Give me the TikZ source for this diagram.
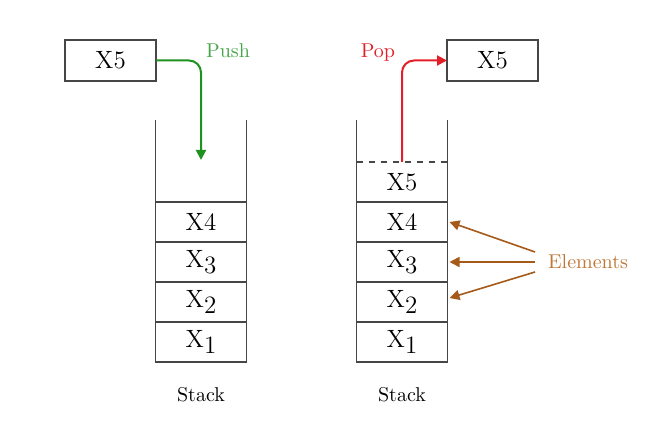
\documentclass[tikz,border=0pt]{standalone}
\usepackage{tikz}
\usetikzlibrary{arrows.meta,positioning}
\definecolor{wallgray}{RGB}{70,70,70}
\definecolor{pushgreen}{RGB}{30,145,30}
\definecolor{pushtext}{RGB}{70,165,70}
\definecolor{popred}{RGB}{228,30,40}
\definecolor{elembrown}{RGB}{165,90,25}
\definecolor{elemtext}{RGB}{190,120,55}
\def\lowdig#1{\raisebox{-.55ex}{#1}}
\tikzset{
	cell/.style={draw=wallgray, line width=0.7pt, minimum width=45.5pt, minimum height=20pt, inner sep=0pt, outer sep=0pt, font=\fontsize{12.5}{14}\selectfont},
	bigbox/.style={cell, minimum height=20.5pt},
	lbl/.style={font=\fontsize{10}{12}\selectfont},
	tip/.style={-{Triangle[length=5pt,width=5pt]}}
}

\begin{document}
\begin{tikzpicture}[x=0.5pt,y=-0.5pt]
				\useasboundingbox (0,0) rectangle (662,431);
				
				\node[cell] (c1) at (201,342) {X\lowdig{1}};
				\node[cell, above=0pt of c1] (c2) {X\lowdig{2}};
				\node[cell, above=0pt of c2] (c3) {X\lowdig{3}};
				\node[cell, above=0pt of c3] (c4) {X4};
				\draw[wallgray, line width=0.7pt] (c1.south west) -- ++(0,-242);
				\draw[wallgray, line width=0.7pt] (c1.south east) -- ++(0,-242);
				\node[lbl, below=9pt of c1] (stackl) {Stack};
				
				\node[bigbox] (inbox) at (110.5,60.5) {X5};
				\coordinate (pushend) at (201,160);
				\draw[tip, pushgreen, line width=1pt, rounded corners=6pt] (inbox.east) -| (pushend);
				\node[lbl, text=pushtext] (pushl) at (228,51) {Push};
				
				\node[cell] (r1) at (402,342) {X\lowdig{1}};
				\node[cell, above=0pt of r1] (r2) {X\lowdig{2}};
				\node[cell, above=0pt of r2] (r3) {X\lowdig{3}};
				\node[cell, above=0pt of r3] (r4) {X4};
				\node[cell, draw=none, above=0pt of r4] (r5) {X5};
				\draw[wallgray, dashed, line width=0.6pt] (r5.north west) -- (r5.north east);
				\draw[wallgray, line width=0.7pt] (r1.south west) -- ++(0,-242);
				\draw[wallgray, line width=0.7pt] (r1.south east) -- ++(0,-242);
				\node[lbl, below=9pt of r1] (stackr) {Stack};
				
				\node[bigbox] (outbox) at (492.5,60.5) {X5};
				\draw[tip, popred, line width=1pt, rounded corners=6pt] (r5.north) |- (outbox.west);
				\node[lbl, text=popred] (popl) at (378,53) {Pop};
				
				\node[lbl, text=elemtext] (elem) at (588,262) {Elements};
				\draw[tip, elembrown, line width=0.8pt] ([xshift=-3pt,yshift=5pt]elem.west) -- ([xshift=1pt]r4.east);
				\draw[tip, elembrown, line width=0.8pt] ([xshift=-3pt]elem.west) -- ([xshift=1pt]r3.east);
				\draw[tip, elembrown, line width=0.8pt] ([xshift=-3pt,yshift=-5pt]elem.west) -- ([xshift=1pt,yshift=2pt]r2.east);
			\end{tikzpicture}
\end{document}
